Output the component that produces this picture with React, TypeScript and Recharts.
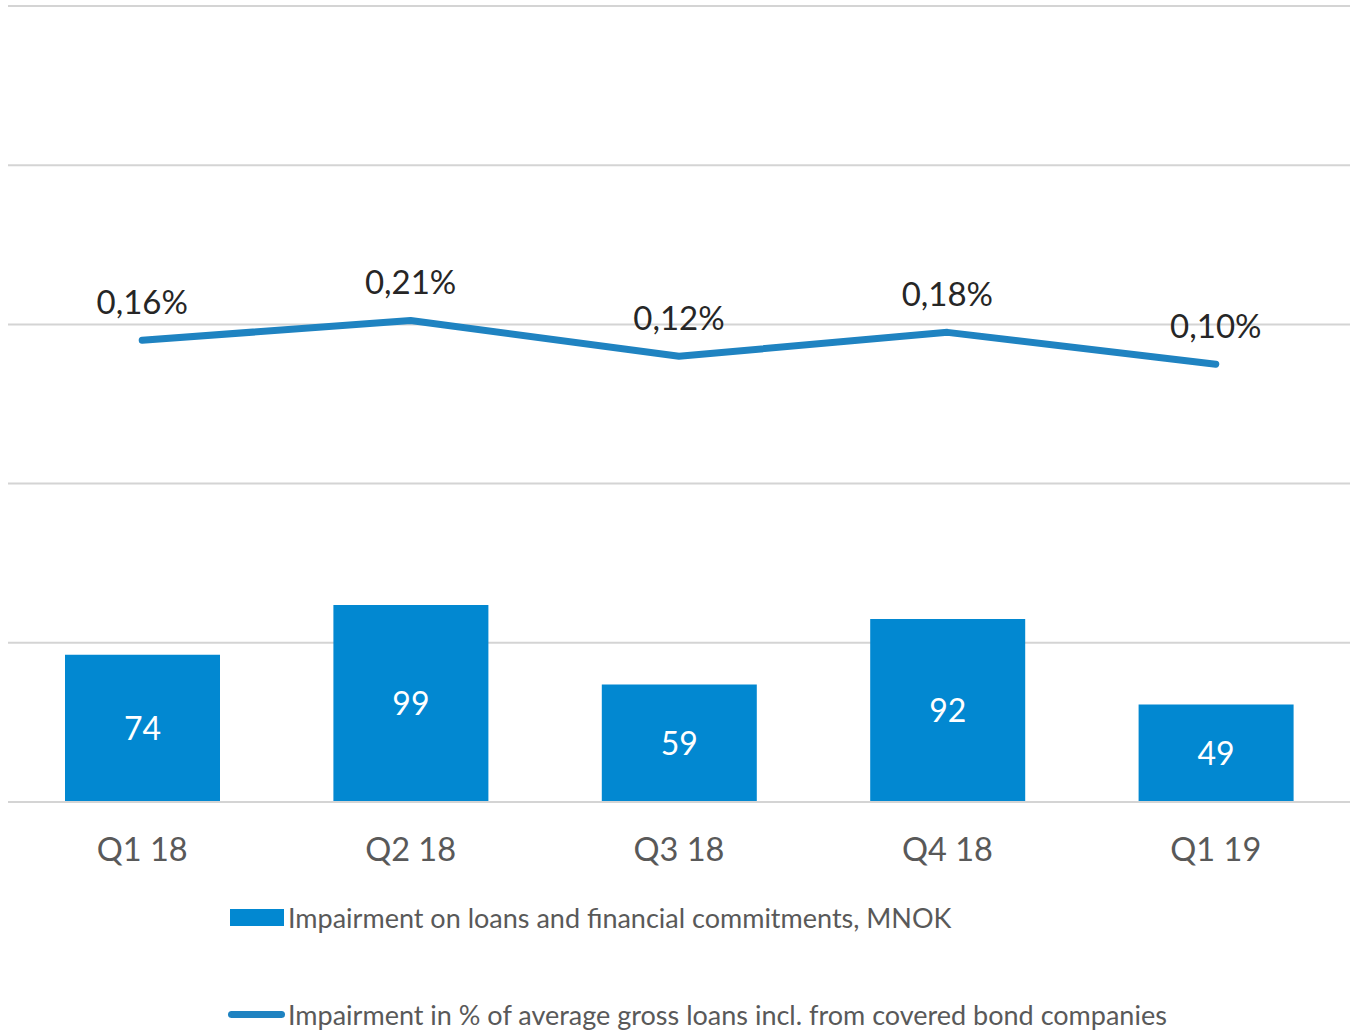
import {
  ComposedChart,
  Bar,
  Line,
  XAxis,
  YAxis,
  CartesianGrid,
  LabelList,
} from "recharts";

const quarters = ["Q1 18", "Q2 18", "Q3 18", "Q4 18", "Q1 19"];
const impairmentMnok = [74, 99, 59, 92, 49];
const impairmentPct = [0.16, 0.21, 0.12, 0.18, 0.1];
const leftTicks = [0, 80, 160, 240, 320, 400];

const barName = "Impairment on loans and financial commitments, MNOK";
const lineName =
  "Impairment in % of average gross loans incl. from covered bond companies";

const data = quarters.map((q, i) => ({
  quarter: q,
  mnok: impairmentMnok[i],
  pct: impairmentPct[i],
}));

const FONT = "Lato, 'Open Sans', sans-serif";
const BAR_COLOR = "#0288d1";
const LINE_COLOR = "#1f83c1";

const formatPct = (v: number) => v.toFixed(2).replace(".", ",") + "%";

export default function App() {
  return (
    <div
      style={{
        position: "absolute",
        left: 0,
        top: 0,
        width: 1351,
        height: 1032,
        background: "#fff",
        fontFamily: FONT,
      }}
    >
      <ComposedChart
        width={1351}
        height={1032}
        data={data}
        margin={{ top: 6, right: 1, bottom: 170, left: 8 }}
      >
        <CartesianGrid
          yAxisId="left"
          vertical={false}
          stroke="#d4d4d4"
          strokeWidth={2}
        />
        <XAxis
          dataKey="quarter"
          axisLine={{ stroke: "#d4d4d4", strokeWidth: 2 }}
          tickLine={false}
          tickMargin={30}
          height={60}
          tick={{ fontSize: 32.5, fill: "#595959", fontFamily: FONT }}
        />
        <YAxis
          yAxisId="left"
          hide
          domain={[0, 400]}
          ticks={leftTicks}
        />
        <YAxis yAxisId="right" orientation="right" hide domain={[-1, 1]} />
        <Bar
          yAxisId="left"
          dataKey="mnok"
          name={barName}
          fill={BAR_COLOR}
          barSize={155}
          isAnimationActive={false}
        >
          <LabelList
            dataKey="mnok"
            position="center"
            fill="#ffffff"
            fontSize={32}
            fontFamily={FONT}
          />
        </Bar>
        <Line
          yAxisId="right"
          dataKey="pct"
          name={lineName}
          stroke={LINE_COLOR}
          strokeWidth={7}
          strokeLinecap="round"
          strokeLinejoin="round"
          dot={false}
          activeDot={false}
          isAnimationActive={false}
        >
          <LabelList
            dataKey="pct"
            position="top"
            offset={26}
            fill="#262626"
            fontSize={33}
            fontFamily={FONT}
            formatter={(v: any) => formatPct(Number(v))}
          />
        </Line>
      </ComposedChart>
      <div
        style={{
          position: "absolute",
          left: 230,
          top: 901,
          display: "flex",
          alignItems: "center",
          fontSize: 27,
          color: "#595959",
          whiteSpace: "nowrap",
        }}
      >
        <span
          style={{
            display: "inline-block",
            width: 54,
            height: 17,
            background: BAR_COLOR,
            marginRight: 4,
          }}
        />
        {barName}
      </div>
      <div
        style={{
          position: "absolute",
          left: 228,
          top: 998,
          display: "flex",
          alignItems: "center",
          fontSize: 27,
          color: "#595959",
          whiteSpace: "nowrap",
        }}
      >
        <span
          style={{
            display: "inline-block",
            width: 57,
            height: 7,
            borderRadius: 4,
            background: LINE_COLOR,
            marginRight: 3,
          }}
        />
        {lineName}
      </div>
    </div>
  );
}
